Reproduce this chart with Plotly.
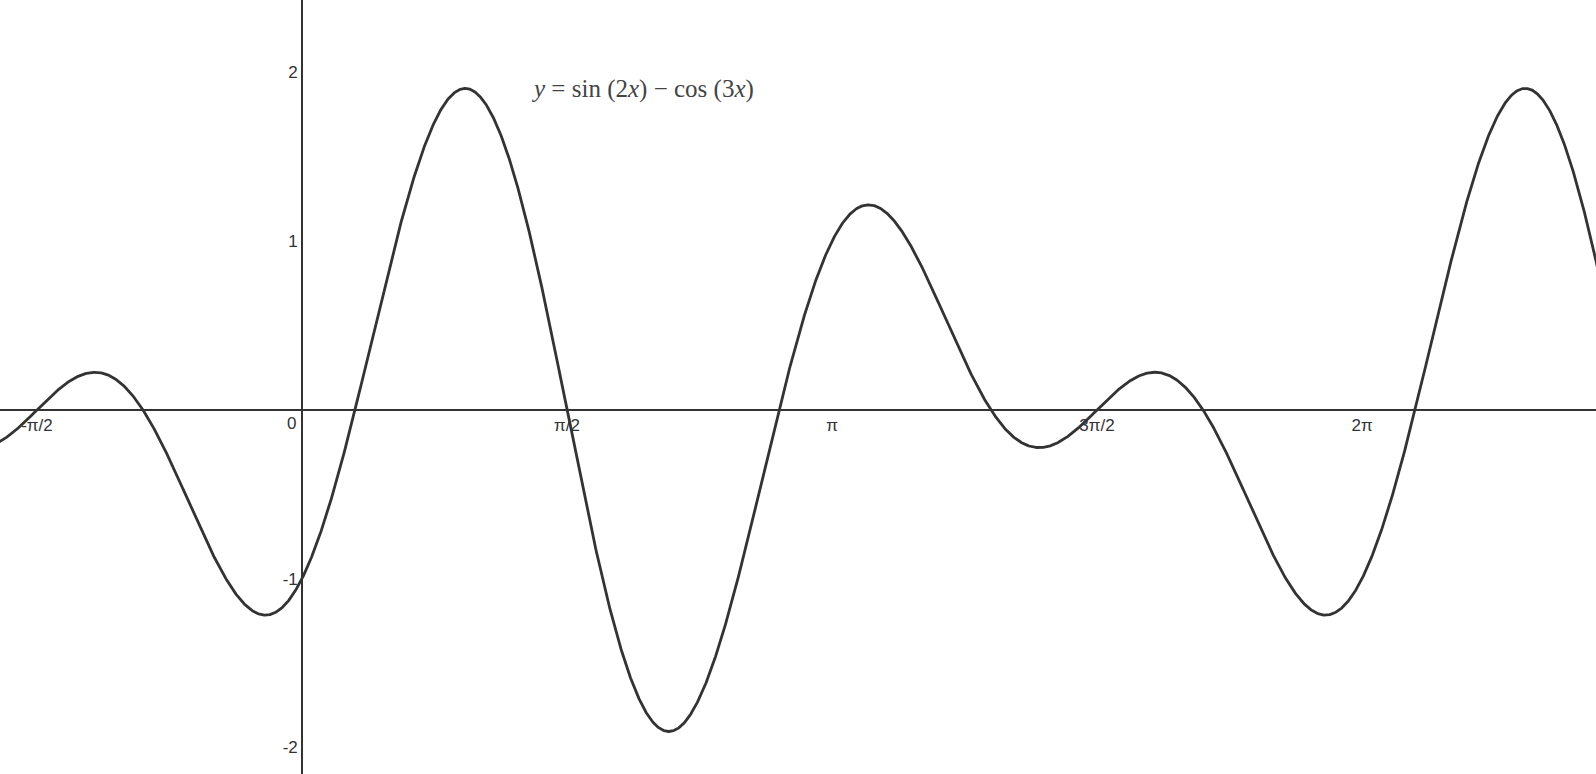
import numpy as np
import plotly.graph_objects as go

# Function shown in the chart's own label: y = sin(2x) - cos(3x)
x_vals = np.linspace(-1.9, 7.8, 4000)
y_vals = np.sin(2 * x_vals) - np.cos(3 * x_vals)

x_tick_vals = [-np.pi / 2, np.pi / 2, np.pi, 3 * np.pi / 2, 2 * np.pi]
x_tick_text = ["-π/2", "π/2", "π", "3π/2", "2π"]
y_tick_vals = [-2, -1, 1, 2]
y_tick_text = ["-2", "-1", "1", "2"]

x_range = [-1.790, 7.670]
y_range = [-2.158, 2.430]

fig = go.Figure()
fig.add_trace(go.Scatter(x=x_vals, y=y_vals, mode="lines",
                         line=dict(color="#333333", width=2.8),
                         hoverinfo="skip", showlegend=False))

axis_font = dict(family="Liberation Sans, Arial, sans-serif", size=17, color="#333333")
fig.update_layout(
    width=1596, height=774,
    margin=dict(l=0, r=0, t=0, b=0),
    paper_bgcolor="white", plot_bgcolor="white",
    xaxis=dict(range=x_range, showgrid=False, zeroline=False,
               anchor="free", position=(0 - y_range[0]) / (y_range[1] - y_range[0]),
               showline=True, linecolor="#333333", linewidth=1.6,
               tickvals=x_tick_vals, ticktext=x_tick_text, ticks="", ticklen=0,
               tickfont=axis_font, layer="below traces", fixedrange=True),
    yaxis=dict(range=y_range, showgrid=False, zeroline=False,
               anchor="free", position=(0 - x_range[0]) / (x_range[1] - x_range[0]),
               showline=True, linecolor="#333333", linewidth=1.6,
               tickvals=y_tick_vals, ticktext=y_tick_text, ticks="", ticklen=0,
               tickfont=axis_font, layer="below traces", fixedrange=True),
    annotations=[
        dict(x=-0.06, y=-0.08, xref="x", yref="y", text="0", showarrow=False,
             font=axis_font, xanchor="center", yanchor="middle"),
        dict(x=2.02, y=1.90, xref="x", yref="y",
             text="<i>y</i> = sin (2<i>x</i>) − cos (3<i>x</i>)", showarrow=False,
             font=dict(family="Liberation Serif, Times New Roman, serif", size=25, color="#444444"),
             xanchor="center", yanchor="middle"),
    ],
)

fig.write_html("out.html", config={"displayModeBar": False},
               post_script="document.body.style.margin='0';document.body.style.overflow='hidden';")
